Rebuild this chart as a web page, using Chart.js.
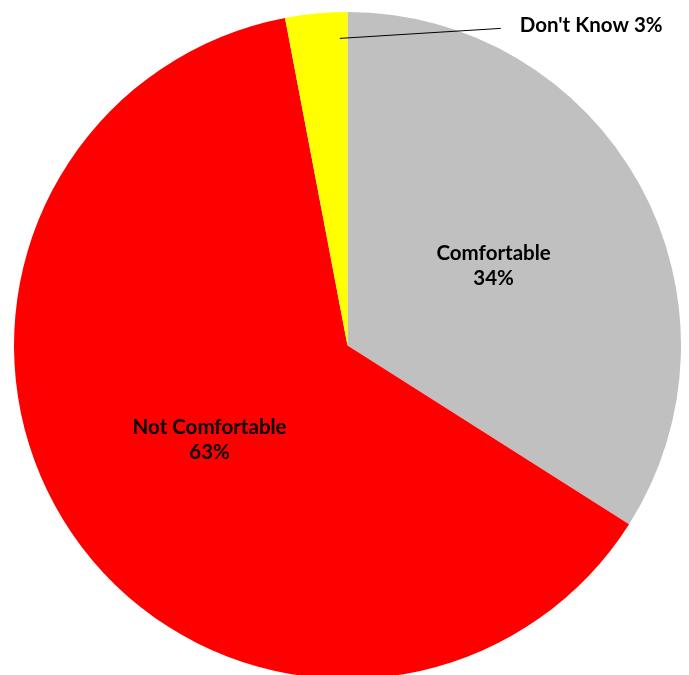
<!DOCTYPE html>
<html>
<head>
<meta charset="utf-8">
<script src="https://cdn.jsdelivr.net/npm/chart.js@4/dist/chart.umd.min.js"></script>
<style>
  html, body { margin: 0; padding: 0; background: #fff; overflow: hidden; }
  body { width: 689px; height: 675px; position: relative; }
  #wrap { position: absolute; left: 14px; top: 12px; width: 667px; height: 667px; }
</style>
</head>
<body>
<div id="wrap"><canvas id="comfortChart"></canvas></div>
<script>
const categories = ['Comfortable', 'Not Comfortable', "Don't Know"];
const shares = [34, 63, 3];
const sliceColors = ['#C0C0C0', '#FF0000', '#FFFF00'];

// labels drawn on top of the slices, placed along each slice's mid angle
const sliceLabels = {
  id: 'sliceLabels',
  afterDatasetsDraw(chart) {
    const ctx = chart.ctx;
    const arcs = chart.getDatasetMeta(0).data;
    ctx.save();
    ctx.font = 'bold 20.5px Lato, "Open Sans", sans-serif';
    ctx.fillStyle = '#000';
    ctx.textAlign = 'center';
    ctx.textBaseline = 'middle';

    arcs.forEach((arc, i) => {
      const mid = (arc.startAngle + arc.endAngle) / 2;
      const text = categories[i] + ' ' + shares[i] + '%';
      if (shares[i] >= 10) {
        const r = arc.outerRadius * 0.5;
        const x = arc.x + Math.cos(mid) * r;
        const y = arc.y + Math.sin(mid) * r;
        ctx.fillText(categories[i], x, y - 12);
        ctx.fillText(shares[i] + '%', x, y + 13);
      } else {
        // small slice: label outside with a leader line
        const r = arc.outerRadius * 0.925;
        const x0 = arc.x + Math.cos(arc.endAngle - 0.025) * r;
        const y0 = arc.y + Math.sin(mid) * r;
        const x1 = x0 + 161, y1 = y0 - 10;
        ctx.strokeStyle = '#000';
        ctx.lineWidth = 1;
        ctx.beginPath();
        ctx.moveTo(x0, y0);
        ctx.lineTo(x1, y1);
        ctx.stroke();
        ctx.textAlign = 'left';
        ctx.fillText(text, x1 + 19, y1 - 3);
      }
    });
    ctx.restore();
  }
};

new Chart(document.getElementById('comfortChart'), {
  type: 'pie',
  data: {
    labels: categories,
    datasets: [{
      data: shares,
      backgroundColor: sliceColors,
      borderWidth: 0
    }]
  },
  options: {
    responsive: true,
    maintainAspectRatio: false,
    animation: false,
    layout: { padding: 0 },
    plugins: {
      legend: { display: false },
      tooltip: { enabled: false }
    }
  },
  plugins: [sliceLabels]
});
</script>
</body>
</html>
